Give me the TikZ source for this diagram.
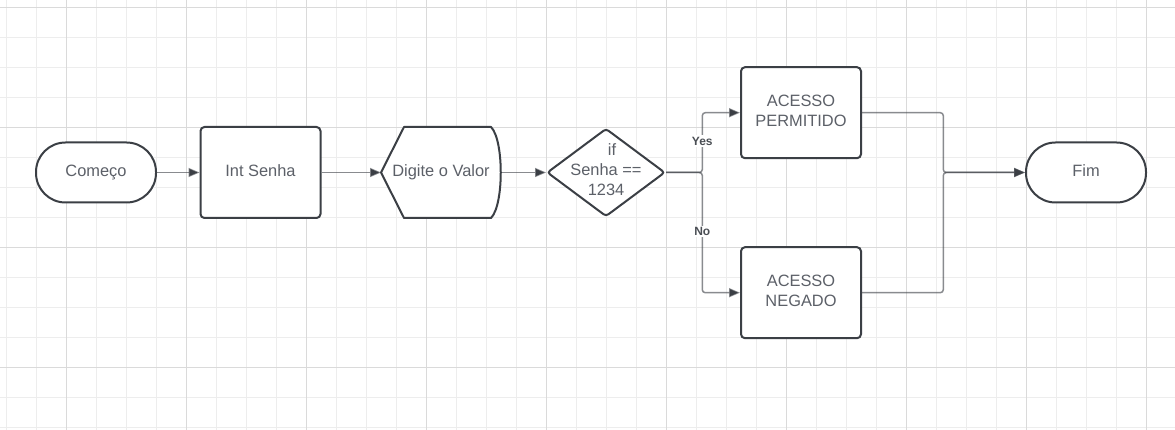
\documentclass[tikz,border=0pt]{standalone}
\usepackage{fontspec}
\setmainfont{Liberation Sans}
\usetikzlibrary{arrows.meta,shapes.geometric}
\definecolor{gridminor}{HTML}{EDEDED}
\definecolor{gridmajor}{HTML}{DADADA}
\definecolor{shapeline}{HTML}{3B3F45}
\definecolor{txtgray}{HTML}{5C6068}
\definecolor{lblgray}{HTML}{4B4F55}
\tikzset{
  txt/.style={text=txtgray, font=\fontsize{16.4}{20}\selectfont, align=center, inner sep=0pt, text depth=3pt},
  procbox/.style={txt, draw=shapeline, line width=2pt, rounded corners=4pt, fill=white,
                  minimum width=120pt, minimum height=91pt},
  termbox/.style={txt, draw=shapeline, line width=2pt, rounded corners=29.5pt, fill=white,
                  minimum width=120pt, minimum height=60pt},
  decbox/.style={diamond, draw=shapeline, line width=2pt, rounded corners=3pt, fill=white,
                 minimum width=118pt, minimum height=88pt, inner sep=0pt},
  conn/.style={draw=shapeline, draw opacity=0.6, line width=1.5pt, rounded corners=3pt,
               -{Triangle[length=11pt,width=9pt,color=shapeline]}},
  branchlbl/.style={fill=white, text=lblgray, font=\fontsize{12}{14}\selectfont\bfseries, inner sep=1.5pt}
}
\begin{document}
\begin{tikzpicture}[x=1pt,y=-1pt]
\useasboundingbox (0,0) rectangle (1175,430);
\fill[white] (0,0) rectangle (1175,430);
% grid
\foreach \i in {0,...,39} {
  \draw[gridminor, line width=1pt] ({6.7+30*\i},0) -- ({6.7+30*\i},430);
}
\foreach \j in {0,...,14} {
  \draw[gridminor, line width=1pt] (0,{7.3+30*\j}) -- (1175,{7.3+30*\j});
}
\foreach \i in {0,...,9} {
  \draw[gridmajor, line width=1pt] ({66.7+120*\i},0) -- ({66.7+120*\i},430);
}
\foreach \j in {0,...,3} {
  \draw[gridmajor, line width=1pt] (0,{7.3+120*\j}) -- (1175,{7.3+120*\j});
}

% nodes
\node[termbox] (start) at (96,172.5) {Começo};
\node[procbox] (int) at (260.5,172.5) {Int Senha};
% display shape
\fill[white] (403,127) -- (381,172.5) -- (403,218) -- (491,218)
   .. controls (504,205) and (504,140) .. (491,127) -- cycle;
\draw[shapeline, line width=2pt, line join=round] (404,127) -- (381,172.5) -- (404,218) -- (491,218)
   .. controls (504,205) and (504,140) .. (491,127) -- cycle;
\node[txt, minimum width=120pt, minimum height=91pt] (dig) at (441,172.5) {Digite o Valor};
\node[decbox] (dec) at (606,172.5) {};
\node[txt, text depth=0pt] (dectxt) at (606,170) {\hspace{12pt}if\\Senha ==\\1234};
\node[procbox] (perm) at (801,112.7) {ACESSO\\PERMITIDO};
\node[procbox] (neg) at (801,292.7) {ACESSO\\NEGADO};
\node[termbox] (fim) at (1086,172.5) {Fim};

\coordinate (split) at (702.3,172.5);
\coordinate (merge) at (943.3,172.5);

% connectors
\draw[conn] (start) -- (int);
\draw[conn] (int) -- (dig.west -| 381,0);
\draw[conn] (dig.east -| 501,0) -- (dec.west);
\draw[conn] (dec.east) -- (split) |- (perm.west);
\draw[conn] (dec.east) -- (split) |- (neg.west);
\draw[conn] (perm.east) -| (merge) -- (fim.west);
\draw[conn] (neg.east) -| (merge) -- (fim.west);

\node[branchlbl] (yes) at (702.3,141) {Yes};
\node[branchlbl] (no) at (702.3,231.7) {No};
\end{tikzpicture}
\end{document}
